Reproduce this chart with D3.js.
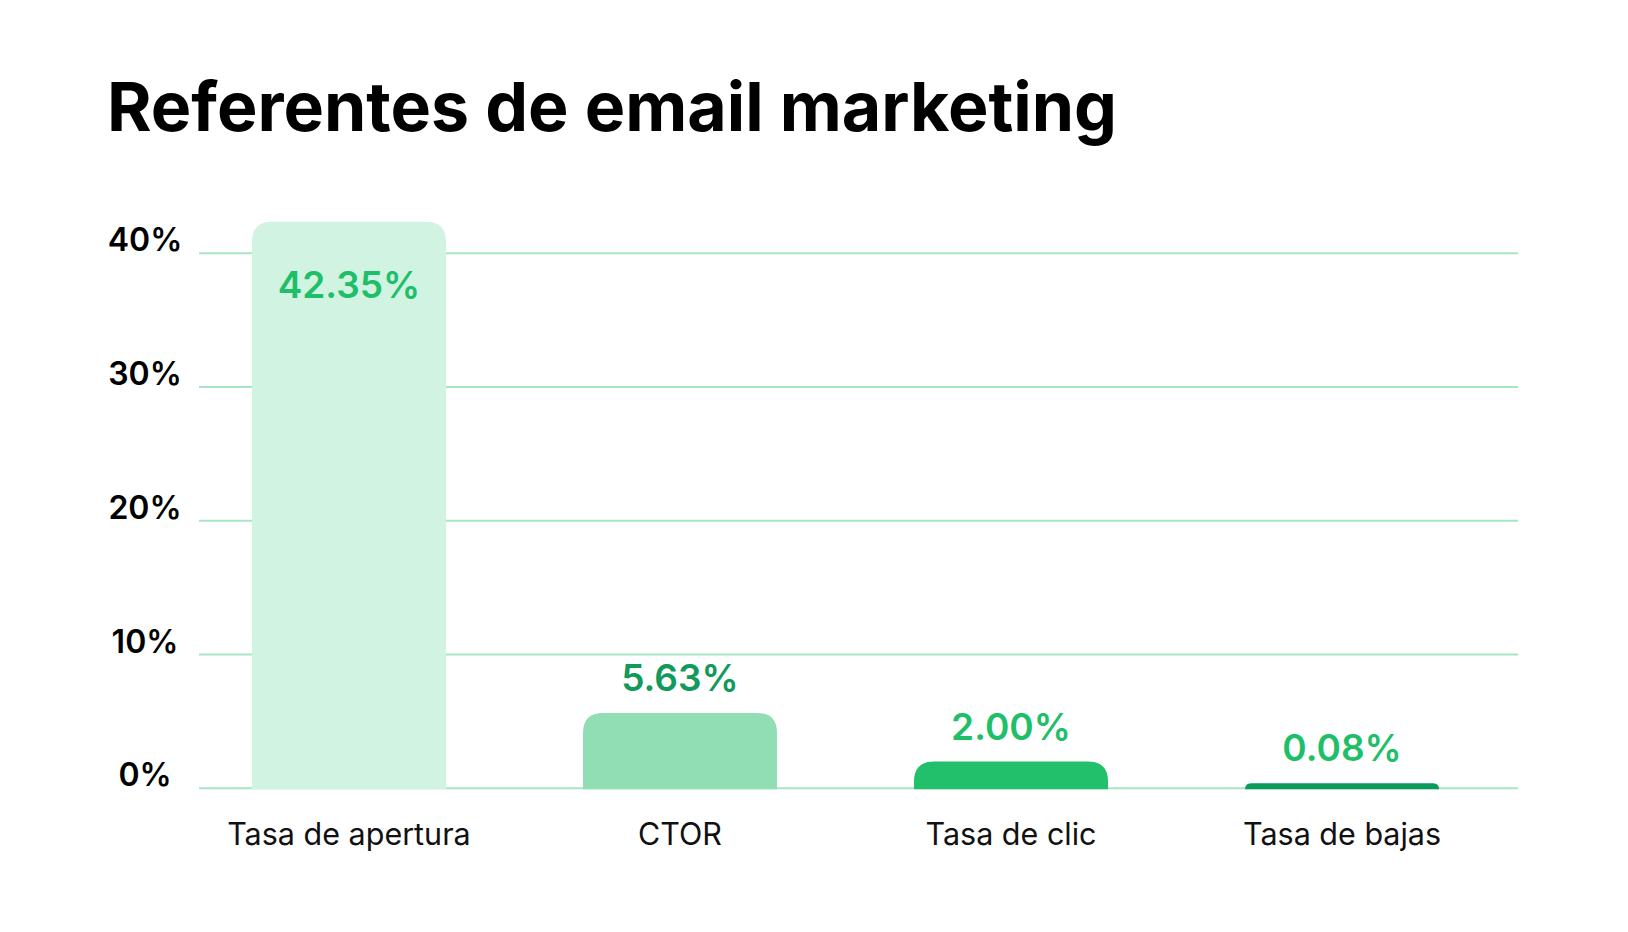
<!DOCTYPE html>
<html>
<head>
<meta charset="utf-8">
<script src="https://cdn.jsdelivr.net/npm/d3@7"></script>
<style>
  body { margin: 0; background: #fff; }
  text { font-family: Inter, "Noto Sans", sans-serif; }
</style>
</head>
<body>
<script>
// chart data
const categories = ["Tasa de apertura", "CTOR", "Tasa de clic", "Tasa de bajas"];
const values = [42.35, 5.63, 2.00, 0.08];
const valueLabels = ["42.35%", "5.63%", "2.00%", "0.08%"];
const barColors = ["#d0f3e2", "#91deb4", "#22c06b", "#0a9a5a"];
const labelColors = ["#1fbf6a", "#12995c", "#1fbf6a", "#1fbf6a"];
const yTicks = [0, 10, 20, 30, 40];
const title = "Referentes de email marketing";

var width = 1628, height = 932;

var svg = d3.select("body").append("svg")
    .attr("width", width)
    .attr("height", height);

// title
svg.append("text")
    .attr("x", 107)
    .attr("y", 131)
    .attr("font-size", 68)
    .attr("font-weight", 700)
    .attr("fill", "#000")
    .text(title);

// scales
var y = d3.scaleLinear().domain([0, 40]).range([788.3, 253.3]);
var x = d3.scaleBand()
    .domain(categories)
    .range([199, 1492])
    .paddingInner(0.414)
    .paddingOuter(0.16);

var gridLeft = 199, gridRight = 1518;

// grid lines
svg.append("g")
  .selectAll("line")
  .data(yTicks)
  .join("line")
    .attr("x1", gridLeft)
    .attr("x2", gridRight)
    .attr("y1", d => y(d))
    .attr("y2", d => y(d))
    .attr("stroke", "#a8e4c6")
    .attr("stroke-width", 2);

// y tick labels
svg.append("g")
  .selectAll("text")
  .data(yTicks)
  .join("text")
    .attr("x", 145)
    .attr("y", d => y(d) - 2)
    .attr("text-anchor", "middle")
    .attr("font-size", 32)
    .attr("font-weight", 600)
    .attr("fill", "#000")
    .text(d => d + "%");

// bars with rounded tops
function barPath(x0, w, top, bottom, r) {
  r = Math.min(r, bottom - top, w / 2);
  return `M${x0},${bottom}V${top + r}Q${x0},${top} ${x0 + r},${top}` +
         `H${x0 + w - r}Q${x0 + w},${top} ${x0 + w},${top + r}V${bottom}Z`;
}

var data = categories.map((c, i) => ({ cat: c, value: values[i], label: valueLabels[i], i: i }));
var minH = 5;

function barTop(d) {
  return Math.min(y(d.value), y(0) - minH);
}

svg.append("g")
  .selectAll("path")
  .data(data)
  .join("path")
    .attr("d", d => barPath(x(d.cat), x.bandwidth(), barTop(d), y(0) + 1, 20))
    .attr("fill", d => barColors[d.i]);

// value labels (inside the bar when it runs past the top tick)
svg.append("g")
  .selectAll("text")
  .data(data)
  .join("text")
    .attr("x", d => x(d.cat) + x.bandwidth() / 2)
    .attr("y", d => d.value > 40 ? barTop(d) + 76 : barTop(d) - 22)
    .attr("text-anchor", "middle")
    .attr("font-size", 37)
    .attr("font-weight", 600)
    .attr("fill", d => labelColors[d.i])
    .text(d => d.label);

// category labels
svg.append("g")
  .selectAll("text")
  .data(data)
  .join("text")
    .attr("x", d => x(d.cat) + x.bandwidth() / 2)
    .attr("y", 845)
    .attr("text-anchor", "middle")
    .attr("font-size", 30.5)
    .attr("fill", "#111")
    .text(d => d.cat);
</script>
</body>
</html>
